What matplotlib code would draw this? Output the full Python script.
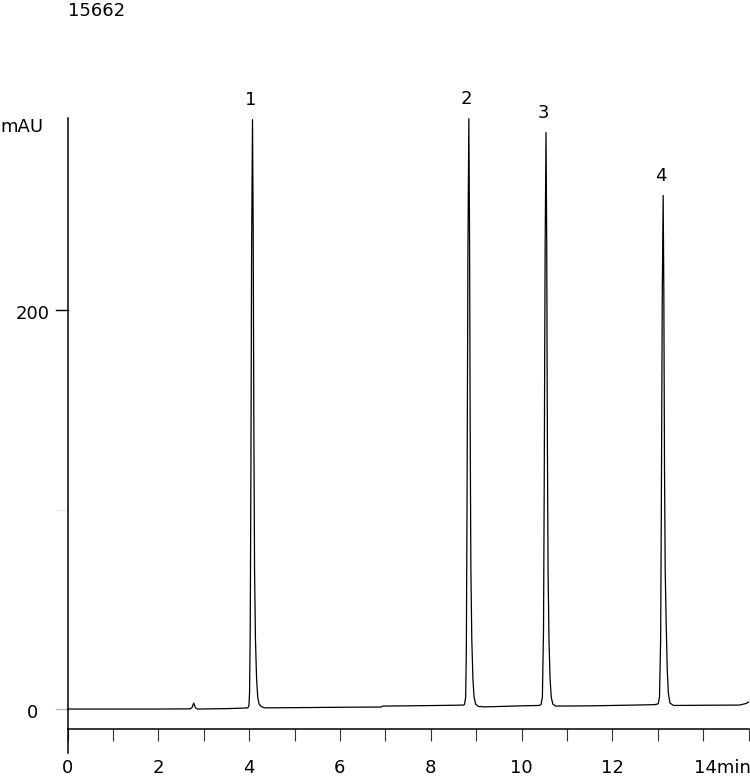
import numpy as np
import matplotlib.pyplot as plt
import matplotlib.transforms as mtransforms

# chromatogram trace (time in min, signal in mAU)
time_min = [0.0, 1.0, 2.0, 2.70, 2.74, 2.78, 2.82, 2.86, 3.5, 3.9,
            3.97, 3.995, 4.01, 4.025, 4.04, 4.055, 4.075, 4.09, 4.105, 4.12,
            4.14, 4.165, 4.19, 4.22, 4.27, 4.35, 5.0, 6.0, 6.9, 6.95,
            7.5, 8.5, 8.72,
            8.745, 8.77, 8.785, 8.80, 8.82, 8.84, 8.855, 8.87, 8.885, 8.905,
            8.93, 8.955, 8.99, 9.05, 9.2, 10.0, 10.38,
            10.43, 10.46, 10.485, 10.50, 10.52, 10.54, 10.555, 10.57, 10.585, 10.605,
            10.63, 10.655, 10.69, 10.75, 11.5, 12.5, 12.93,
            13.01, 13.04, 13.065, 13.08, 13.10, 13.12, 13.135, 13.15, 13.165, 13.185,
            13.21, 13.235, 13.27, 13.35, 14.0, 14.8, 14.95, 15.0]
signal_mau = [0.0, 0.0, 0.0, 0.1, 0.6, 3.0, 0.6, 0.0, 0.2, 0.5,
              0.6, 1.5, 8, 40, 120, 230, 295.5, 240, 140, 70,
              35, 15, 6, 2.5, 1.2, 0.6, 0.7, 0.9, 1.0, 1.5,
              1.6, 1.9, 2.0,
              2.3, 6, 30, 100, 230, 296, 240, 140, 70, 35,
              15, 6, 2.5, 1.3, 1.1, 1.6, 1.8,
              2.2, 6, 40, 110, 230, 289, 235, 135, 70, 35,
              15, 6, 2.5, 1.5, 1.6, 2.0, 2.2,
              2.6, 6, 35, 100, 205, 257.5, 210, 120, 70, 45,
              20, 8, 3, 1.8, 1.9, 2.0, 2.8, 3.5]

# peak labels
peak_names = ['1', '2', '3', '4']
peak_times = [4.075, 8.84, 10.54, 13.12]
peak_heights = [295.5, 296, 289, 257.5]

x_ticks = list(range(0, 16))
x_label_pos = [0, 2, 4, 6, 8, 10, 12, 14]
x_label_txt = ['0', '2', '4', '6', '8', '10', '12', '14min']
y_ticks = [0, 100, 200]
y_tick_cols = ['#bbbbbb', '#ececec', 'black']
y_label_pos = [0, 200]
y_label_txt = ['0', '200']

plt.rcParams['font.family'] = ['DejaVu Sans']
fs = 13

fig = plt.figure(figsize=(7.5, 7.76), dpi=100)
W, H = 750, 776
ax = fig.add_axes([67.5 / W, 47 / H, 681 / W, 611 / H])

ax.plot(time_min, signal_mau, color='black', lw=0.9, clip_on=False)
ax.set_xlim(0, 15)
ax.set_ylim(-10, 296.3)

for s in ['top', 'right']:
    ax.spines[s].set_visible(False)
ax.spines['left'].set_linewidth(1.1)
ax.spines['bottom'].set_linewidth(1.1)

ax.set_xticks(x_ticks)
ax.set_xticklabels([])
ax.tick_params(axis='x', direction='out', length=8.6, width=0.8, color='#333333')
ax.set_yticks([])

# y ticks drawn by hand so each can have its own shade
for v, c in zip(y_ticks, y_tick_cols):
    ax.plot([-11.5 / 681, 0], [v, v], transform=ax.get_yaxis_transform(),
            color=c, lw=1.0, clip_on=False, zorder=1)

# y axis runs on below the time axis
ax.plot([0, 0], [0, -24 / 611], transform=ax.transAxes, color='black',
        lw=1.1, clip_on=False)

# tick labels
xlab_tr = mtransforms.offset_copy(ax.get_xaxis_transform(), fig=fig, x=0, y=-44, units='dots')
for p, t in zip(x_label_pos, x_label_txt):
    if t.endswith('min'):
        ax.text(p, 0, t, transform=mtransforms.offset_copy(xlab_tr, fig=fig, x=-9, y=0, units='dots'),
                ha='left', va='baseline', fontsize=fs)
    else:
        ax.text(p, 0, t, transform=xlab_tr, ha='center', va='baseline', fontsize=fs)

ylab_tr = mtransforms.offset_copy(ax.get_yaxis_transform(), fig=fig, x=0, y=-9, units='dots')
for p, t in zip(y_label_pos, y_label_txt):
    ax.text(-34.5 / 681, p, t, transform=ylab_tr, ha='center', va='baseline', fontsize=fs)

# peak numbers
for n, pt, ph in zip(peak_names, peak_times, peak_heights):
    ax.annotate(n, (pt, ph), xytext=(-1.5, 14), textcoords='offset points',
                ha='center', va='center', fontsize=fs, annotation_clip=False)

fig.text(68 / W, 1 - 16 / H, '15662', ha='left', va='baseline', fontsize=fs)
fig.text(0.5 / W, 1 - 132 / H, 'mAU', ha='left', va='baseline', fontsize=fs)

fig.savefig('out.png', dpi=100)
